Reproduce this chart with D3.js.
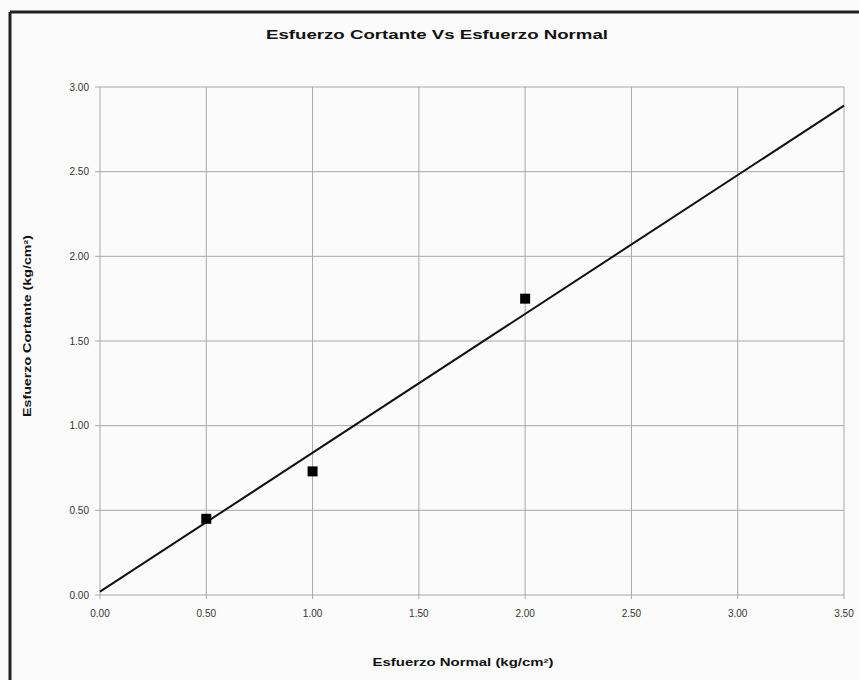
<!DOCTYPE html>
<html>
<head>
<meta charset="utf-8">
<script src="https://cdn.jsdelivr.net/npm/d3@7"></script>
<style>
  html, body { margin: 0; padding: 0; background: #fbfbfb; }
  svg { display: block; }
</style>
</head>
<body>
<svg id="chart" width="859" height="680"></svg>
<script>
const titleText = "Esfuerzo Cortante Vs Esfuerzo Normal";
const xLabelText = "Esfuerzo Normal (kg/cm²)";
const yLabelText = "Esfuerzo Cortante (kg/cm²)";

const normalStress = [0.5, 1.0, 2.0];
const shearStress = [0.45, 0.73, 1.75];

const fitX = [0, 3.5];
const fitY = [0.02, 2.89];

const xTicks = [0, 0.5, 1.0, 1.5, 2.0, 2.5, 3.0, 3.5];
const yTicks = [0, 0.5, 1.0, 1.5, 2.0, 2.5, 3.0];

const svg = d3.select("#chart");
const W = 859, H = 680;

// outer frame (top and left visible)
svg.append("line").attr("x1", 10).attr("x2", W).attr("y1", 12).attr("y2", 12)
  .attr("stroke", "#222").attr("stroke-width", 3);
svg.append("line").attr("x1", 10).attr("x2", 10).attr("y1", 12).attr("y2", H)
  .attr("stroke", "#222").attr("stroke-width", 3);

const x = d3.scaleLinear().domain([0, 3.5]).range([100, 844]);
const y = d3.scaleLinear().domain([0, 3.0]).range([595, 87]);

const g = svg.append("g");

// gridlines
g.selectAll("line.vg").data(xTicks).join("line")
  .attr("x1", d => x(d)).attr("x2", d => x(d))
  .attr("y1", y(3.0)).attr("y2", y(0) + 4)
  .attr("stroke", "#a8a8a8").attr("stroke-width", 1);
g.selectAll("line.hg").data(yTicks).join("line")
  .attr("x1", x(0) - 5).attr("x2", x(3.5))
  .attr("y1", d => y(d)).attr("y2", d => y(d))
  .attr("stroke", "#a8a8a8").attr("stroke-width", 1);

// tick labels
g.selectAll("text.xt").data(xTicks).join("text")
  .attr("x", d => x(d)).attr("y", 617)
  .attr("text-anchor", "middle")
  .attr("font-family", "Liberation Sans, Arial, sans-serif")
  .attr("font-size", 10).attr("fill", "#333")
  .text(d => d3.format(".2f")(d));
g.selectAll("text.yt").data(yTicks).join("text")
  .attr("x", 89).attr("y", d => y(d) + 3.5)
  .attr("text-anchor", "end")
  .attr("font-family", "Liberation Sans, Arial, sans-serif")
  .attr("font-size", 10).attr("fill", "#333")
  .text(d => d3.format(".2f")(d));

// fit line
const lineGen = d3.line().x(d => x(d[0])).y(d => y(d[1]));
g.append("path")
  .datum(fitX.map((v, i) => [v, fitY[i]]))
  .attr("d", lineGen)
  .attr("fill", "none").attr("stroke", "#111").attr("stroke-width", 2);

// points
const s = 10;
g.selectAll("rect.pt").data(normalStress.map((v, i) => [v, shearStress[i]])).join("rect")
  .attr("x", d => x(d[0]) - s / 2).attr("y", d => y(d[1]) - s / 2)
  .attr("width", s).attr("height", s)
  .attr("fill", "#000");

// title
svg.append("text")
  .attr("x", 437).attr("y", 39)
  .attr("text-anchor", "middle")
  .attr("font-family", "Liberation Sans, Arial, sans-serif")
  .attr("font-weight", "bold").attr("font-size", 13)
  .attr("fill", "#111")
  .attr("textLength", 342).attr("lengthAdjust", "spacingAndGlyphs")
  .text(titleText);

// x label
svg.append("text")
  .attr("x", 463).attr("y", 666)
  .attr("text-anchor", "middle")
  .attr("font-family", "Liberation Sans, Arial, sans-serif")
  .attr("font-weight", "bold").attr("font-size", 10)
  .attr("fill", "#111")
  .attr("textLength", 181).attr("lengthAdjust", "spacingAndGlyphs")
  .text(xLabelText);

// y label
svg.append("text")
  .attr("transform", "translate(31,326) rotate(-90)")
  .attr("text-anchor", "middle")
  .attr("font-family", "Liberation Sans, Arial, sans-serif")
  .attr("font-weight", "bold").attr("font-size", 10)
  .attr("fill", "#111")
  .attr("textLength", 182).attr("lengthAdjust", "spacingAndGlyphs")
  .text(yLabelText);
</script>
</body>
</html>
